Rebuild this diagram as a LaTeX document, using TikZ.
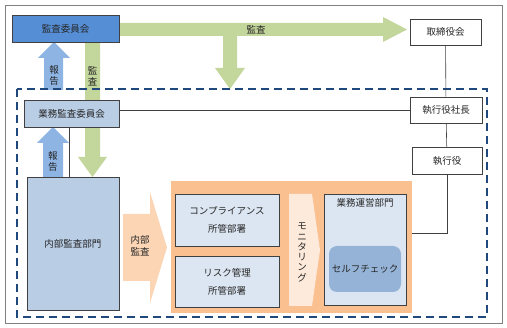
\documentclass[tikz,border=0pt]{standalone}
\usepackage{fontspec}
\setmainfont{Noto Sans CJK JP}
\usetikzlibrary{positioning, calc}
\definecolor{ACBlue}{RGB}{85, 142, 213}
\definecolor{ACPale}{RGB}{185, 205, 229}
\definecolor{ACSoft}{RGB}{220, 230, 242}
\definecolor{ACSelf}{RGB}{149, 179, 215}
\definecolor{ACArrow}{RGB}{142, 180, 227}
\definecolor{ACGreen}{RGB}{195, 214, 155}
\definecolor{ACOrange}{RGB}{250, 192, 144}
\definecolor{ACPeach}{RGB}{252, 213, 181}
\definecolor{ACCream}{RGB}{253, 234, 218}
\definecolor{ACDash}{RGB}{31, 73, 125}
\definecolor{ACLine}{RGB}{64, 64, 64}
\definecolor{ACText}{RGB}{38, 38, 38}

\begin{document}
\begin{tikzpicture}[
  x=1pt, y=-1pt,
  every node/.style={font=\fontsize{9.5}{11}\selectfont, text=ACText, inner sep=0pt},
  box/.style={draw=ACLine, line width=0.8pt, fill=white, align=center},
  bluebox/.style={box, fill=ACBlue},
  palebox/.style={box, fill=ACPale},
  subbox/.style={box, fill=ACSoft, font=\fontsize{9.5}{18}\selectfont},
  vtext/.style={align=center, font=\fontsize{9.5}{11}\selectfont},
  link/.style={draw=ACLine, line width=0.6pt}
]
  \useasboundingbox (0,0) rectangle (507,328);
  \draw[draw=gray, line width=0.8pt] (5,5) rectangle (502,323);

  %% Backgrounds
  \fill[ACOrange] (171,181) rectangle (412,313);
  \node[minimum width=241pt, minimum height=132pt] (orange) at (291.5,247) {};

  %% Block arrows
  \fill[ACGreen] (119,23) -- (383,23) -- (383,17) -- (407,29.5) -- (383,42) -- (383,36)
    -- (237,36) -- (237,68) -- (245,68) -- (230,89) -- (215,68) -- (223,68) -- (223,36)
    -- (119,36) -- cycle;
  \fill[ACGreen] (85,42) -- (100,42) -- (100,157) -- (107,157) -- (92.5,177) -- (78,157)
    -- (85,157) -- cycle;
  \fill[ACArrow] (44,90) -- (44,58) -- (38,58) -- (54,42) -- (70,58) -- (63,58) -- (63,90) -- cycle;
  \fill[ACArrow] (43,177) -- (43,143) -- (37,143) -- (53,127) -- (69,143) -- (63,143) -- (63,177) -- cycle;
  \fill[ACPeach] (123,214) -- (150,214) -- (150,192) -- (167,247.5) -- (150,303) -- (150,281)
    -- (123,281) -- cycle;
  \fill[ACCream] (289,194) -- (312,194) -- (320,250) -- (312,306) -- (289,306) -- cycle;

  %% Nodes
  \node[bluebox, minimum width=107pt, minimum height=27pt] (kansa)      at (65.5, 28.5)  {監査委員会};
  \node[palebox, minimum width=95pt,  minimum height=27pt] (gyomukansa) at (71.5, 113.5) {業務監査委員会};
  \node[palebox, minimum width=92pt,  minimum height=133pt] (naibu)     at (73, 243.5)   {内部監査部門};
  \node[box, minimum width=71pt, minimum height=26pt]      (torishimari) at (445.5, 32)   {取締役会};
  \node[box, minimum width=72pt, minimum height=26pt]      (shacho)      at (446, 110)    {執行役社長};
  \node[box, minimum width=70pt, minimum height=27pt]      (shikko)      at (447, 160.5)  {執行役};
  \node[subbox, minimum width=104pt, minimum height=52pt]  (compl)       at (227, 220)    {コンプライアンス\\所管部署};
  \node[subbox, minimum width=104pt, minimum height=51pt]  (risk)        at (227, 281.5)  {リスク管理\\所管部署};
  \node[box, fill=ACSoft, minimum width=82pt, minimum height=111pt] (gyomuunei) at (365, 249.5) {};
  \node (gyomuuneitext) at (365, 203) {業務運営部門};
  \node[fill=ACSelf, rounded corners=8pt, minimum width=72pt, minimum height=46pt] (self) at (365, 269) {セルフチェック};

  %% Arrow labels
  \node (kansalabel)  at (256, 30)   {監査};
  \node[vtext] (kansav)  at (92.5, 76)  {監\\査};
  \node[vtext] (hokoku1) at (54, 75)    {報\\告};
  \node[vtext] (hokoku2) at (53, 161)   {報\\告};
  \node[vtext, font=\fontsize{9.5}{12}\selectfont] (naibulabel) at (140, 246) {内部\\監査};
  \node[vtext, font=\fontsize{9.5}{10.3}\selectfont] (monitor) at (302, 252.5) {モ\\ニ\\タ\\リ\\ン\\グ};

  %% Dashed area
  \draw[ACDash, line width=2pt, dash pattern=on 8pt off 5pt] (17,89) rectangle (487,317);

  %% Lines
  \draw[link] (torishimari) -- (shacho);
  \draw[link] (shacho) -- (shikko);
  \draw[link] (shacho.west) -- (shacho.west -| gyomukansa.east);
  \draw[link] (shikko.south) |- ([yshift=14pt]orange.east);
  \draw[link] ([xshift=-2.5pt]gyomukansa.south) -- ([xshift=-2.5pt]gyomukansa.south |- naibu.north);
\end{tikzpicture}
\end{document}
